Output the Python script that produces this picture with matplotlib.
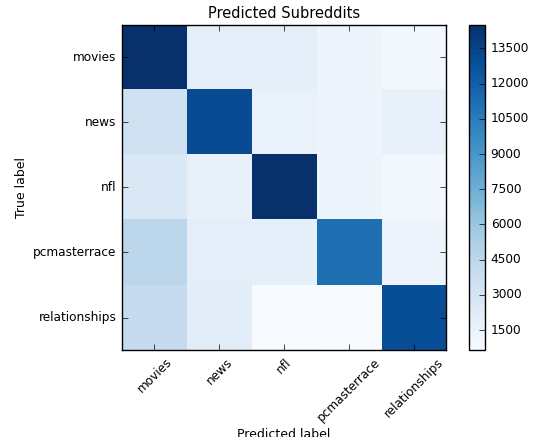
import matplotlib
matplotlib.use('Agg')
import matplotlib.pyplot as plt
import numpy as np

classes = ['movies', 'news', 'nfl', 'pcmasterrace', 'relationships']
# rows = true label, cols = predicted label
cm = np.array([
    [14400, 2000, 2000, 1350, 1050],
    [3400, 13000, 1600, 1300, 1650],
    [2700, 1700, 14500, 1300, 1050],
    [4500, 2000, 1900, 11100, 1300],
    [4100, 2100, 750, 650, 12900],
])
cbar_ticks = [1500, 3000, 4500, 6000, 7500, 9000, 10500, 12000, 13500]

plt.style.use('classic')
fig = plt.figure(figsize=(5.36, 4.37), dpi=100, facecolor='white')
ax = fig.add_axes([0.2276, 0.199, 0.6045, 0.744])
cax = fig.add_axes([0.875, 0.199, 0.030, 0.744])

im = ax.imshow(cm, interpolation='nearest', cmap=plt.cm.Blues, aspect='auto')
ax.set_title('Predicted Subreddits', fontsize=10.5)
cb = fig.colorbar(im, cax=cax, ticks=cbar_ticks)
cb.ax.tick_params(labelsize=8.75)

tick_marks = np.arange(len(classes))
ax.set_xticks(tick_marks)
ax.set_xticklabels(classes, rotation=45, fontsize=8.75)
ax.set_yticks(tick_marks)
ax.set_yticklabels(classes, fontsize=8.75)
ax.set_xlim(-0.5, len(classes) - 0.5)
ax.set_ylim(len(classes) - 0.5, -0.5)
ax.set_ylabel('True label', fontsize=9, labelpad=4)
ax.set_xlabel('Predicted label', fontsize=9, labelpad=3)

fig.savefig('out.png', dpi=100, facecolor='white')
